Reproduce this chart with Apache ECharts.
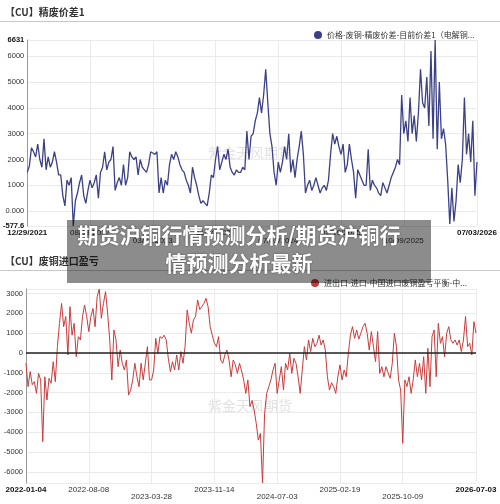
<!DOCTYPE html>
<html>
<head>
<meta charset="utf-8">
<script src="https://cdn.jsdelivr.net/npm/echarts@6.0.0/dist/echarts.min.js"></script>
<style>
  html, body { margin: 0; padding: 0; background: #fff; }
  #main { width: 500px; height: 504px; }
</style>
</head>
<body>
<div id="main"></div>
<script>
// 精废价差1 (上图)
const topName = '价格-废铜-精废价差-目前价差1（电解铜-废铜）'
const topLabels = ['12/29/2021', '08/08/2022', '03/28/2023', '11/14/2023', '07/03/2024', '02/19/2025', '10/09/2025', '07/03/2026']
const topValues = [
  1500, 1750, 2450, 2300, 2100, 2600, 2000, 1700, 2800, 1600,
  2100, 1700, 1900, 2300, 1900, 1400, 1400, 600, 200, 1200,
  1000, 1300, -577.6, 400, 700, 1100, 1400, 600, 300, 800,
  1200, 900, 1100, 1400, 500, 1500, 1700, 2300, 1600, 1900,
  2000, 2500, 800, 1100, 1300, 1000, 1800, 1000, 1300, 2300,
  2100, 2000, 2100, 1400, 2000, 1700, 1600, 1500, 1800, 2300,
  2250, 2200, 2300, 700, 1300, 700, 1200, 1000, 1800, 2200,
  2000, 2300, 2100, 1800, 1600, 1500, 1200, 1000, 700, 1700,
  1300, 1000, 600, 300, 400, 300, 200, 700, 1400, 1300,
  2000, 2500, 1600, 1900, 2200, 2000, 2400, 1700, 1500, 1400,
  1600, 1500, 1500, 1700, 1600, 3100, 2000, 2900, 3000, 3500,
  3800, 4400, 3800, 4500, 5500, 4200, 3000, 2500, 1500, 1000,
  1900, 1500, 1900, 2500, 2000, 3000, 1500, 2000, 1300, 2000,
  2500, 3100, 2200, 700, 1000, 1200, 800, 1000, 1300, 1000,
  700, 900, 1000, 800, 1200, 2200, 3000, 2600, 2900, 2500,
  2200, 2600, 1500, 1800, 2600, 2000, 1500, 500, 1600, 1400,
  1200, 1000, 1000, 2400, 800, 1200, 1000, 900, 700, 600,
  1100, 900, 700, 1000, 1300, 1500, 1700, 2000, 1800, 4500,
  3000, 3500, 2700, 4400, 3000, 3700, 2700, 3800, 5500, 4200,
  4000, 5200, 3300, 6200, 2800, 6631, 2400, 5000, 2800, 3200,
  2600, 1200, -500, 900, -400, 400, 1800, 1100, 2000, 4400,
  2200, 3000, 1900, 3500, 600, 1900
]

// 废铜进口盈亏 (下图)
const botName = '进出口-进口-中国进口废铜盈亏平衡-中国（广东）'
const botLabels = ['2022-01-04', '2022-08-08', '2023-03-28', '2023-11-14', '2024-07-03', '2025-02-19', '2025-10-09', '2026-07-03']
const botValues = [
  -520, -1700, -940, -1600, -1450, -2040, -1030, -1360, -4480, -1200,
  -2375, -1280, -1530, -440, -1450, 320, 1500, 2500, 1330, 1840,
  -100, 2340, 900, 1500, -185, 825, 660, 1840, 2425, 1840,
  1080, 1840, 2250, 1330, 2850, 3232, 1750, 2500, 3100, 2000,
  660, -1360, 1160, 660, -690, 150, -520, -860, -350, -2120,
  -1870, -1360, -520, -1200, -1700, -520, -1360, -520, 320, -1360,
  -1360, -860, 740, -17, 825, 740, 900, 660, -270, -940,
  -440, -860, -100, -860, 70, -520, 320, 2170, 1500, 1000,
  1670, 1840, 2680, 2200, 2340, 2500, 2760, 2340, 1330, 900,
  490, 320, 825, -350, -520, -100, 150, -350, -1200, -350,
  -600, -1030, -520, -900, -1360, -2040, -1360, -2710, -2400, -2880,
  -3550, -4400, -4060, -6566, -3050, -2040, -1700, -1360, -860, -520,
  -2040, -1360, -690, -1870, -520, -860, -17, -1030, -270, -520,
  -1200, -2040, -860, 320, -350, 660, 70, 740, 320, 490,
  900, 400, 660, 150, -1200, -1870, -1500, -1700, -2040, -1200,
  -600, -1360, -860, -1200, -17, 900, 1330, 740, 1160, 700,
  1000, 1330, 1500, 1000, 150, 1080, 320, -440, 1080, -1030,
  -690, -1200, -690, -1000, -1280, -520, 1000, 320, -1360, -1870,
  -4560, -1360, -1700, -1200, -2040, -1360, -350, -1200, -520, -1360,
  -185, -2040, 235, -1700, 825, 1160, -1200, 1500, 490, 825,
  -185, 1000, 1330, 660, 490, 660, 400, 660, 70, 660,
  1840, 320, 490, -100, 1580, 1000
]

const overlayLines = ['期货沪铜行情预测分析/期货沪铜行', '情预测分析最新']

const STEP = 30
const NUM_FONT = '"Liberation Sans", Arial, sans-serif'
const CJK_FONT = '"Noto Sans CJK SC", sans-serif'

// 第几个刻度标签, 不是标签返回 -1
function labelNo(i, n) {
  if (i === n - 1) return 7
  if (i % STEP === 0 && i / STEP <= 6) return i / STEP
  return -1
}
// 标签错行: 0,1,3,5,7 在第一行
function labelRow(k) {
  return (k === 0 || k === 7 || k % 2 === 1) ? 1 : 2
}

function makeXAxis(gridIndex, n, labels, row, offset) {
  const cats = Array.from({ length: n }, (_, i) => String(i))
  return {
    type: 'category',
    gridIndex: gridIndex,
    position: 'bottom',
    data: cats,
    boundaryGap: false,
    offset: offset,
    axisLine: { show: false },
    axisTick: { show: false },
    splitLine: {
      show: row === 1,
      interval: (i) => labelNo(i, n) >= 0,
      lineStyle: { color: '#ebebeb', width: 1 }
    },
    axisLabel: {
      interval: (i) => {
        const k = labelNo(i, n)
        return k >= 0 && labelRow(k) === row
      },
      margin: 3,
      fontSize: 8,
      color: '#333',
      fontFamily: NUM_FONT,
      formatter: (v) => {
        const k = labelNo(parseInt(v, 10), n)
        if (k < 0) return ''
        if (k === 0 || k === 7) return '{b|' + labels[k] + '}'
        return labels[k]
      },
      rich: { b: { fontWeight: 'bold', fontSize: 8, color: '#111', fontFamily: NUM_FONT } }
    }
  }
}

const topMin = Math.min(...topValues)
const topMax = Math.max(...topValues)

const chart = echarts.init(document.getElementById('main'))

chart.setOption({
  animation: false,
  textStyle: { fontFamily: NUM_FONT },
  grid: [
    { left: 25, right: 23, top: 40, height: 186 },
    { left: 26, right: 24, top: 289, height: 194 }
  ],
  legend: [
    {
      data: [topName], left: 309, top: 26, icon: 'circle', itemWidth: 8, itemHeight: 8,
      textStyle: { fontSize: 8, color: '#333', fontFamily: CJK_FONT, width: 150, overflow: 'truncate', ellipsis: '...' }
    },
    {
      data: [botName], left: 306, top: 274, icon: 'circle', itemWidth: 8, itemHeight: 8,
      textStyle: { fontSize: 8, color: '#333', fontFamily: CJK_FONT, width: 152, overflow: 'truncate', ellipsis: '...' }
    }
  ],
  xAxis: [
    makeXAxis(0, topValues.length, topLabels, 1, 0),
    makeXAxis(0, topValues.length, topLabels, 2, 8),
    makeXAxis(1, botValues.length, botLabels, 1, 0),
    makeXAxis(1, botValues.length, botLabels, 2, 7)
  ],
  yAxis: [
    {
      type: 'value',
      gridIndex: 0,
      min: (e) => e.min,
      max: (e) => e.max,
      splitNumber: 7,
      axisLine: { show: true, lineStyle: { color: '#999', width: 1 } },
      axisTick: { show: false },
      splitLine: { lineStyle: { color: '#ebebeb' } },
      axisLabel: {
        margin: 3, fontSize: 7.5, color: '#333',
        formatter: (v) => {
          if (v === 0) return '0.000'
          if (v === topMin || v === topMax) return '{b|' + v + '}'
          return String(v)
        },
        rich: { b: { fontWeight: 'bold', fontSize: 7.5, color: '#111' } }
      }
    },
    {
      type: 'value',
      gridIndex: 1,
      min: (e) => e.min,
      max: (e) => e.max,
      splitNumber: 10,
      axisLine: { show: true, lineStyle: { color: '#999', width: 1 } },
      axisTick: { show: false },
      splitLine: { lineStyle: { color: '#ebebeb' } },
      axisLabel: {
        margin: 3, fontSize: 7.5, color: '#333', showMinLabel: false, showMaxLabel: false,
        formatter: (v) => String(v)
      }
    }
  ],
  series: [
    {
      name: topName,
      type: 'line',
      xAxisIndex: 0,
      yAxisIndex: 0,
      data: topValues,
      symbol: 'none',
      color: '#3c4187',
      lineStyle: { width: 1.3, color: '#3c4187' }
    },
    {
      name: botName,
      type: 'line',
      xAxisIndex: 2,
      yAxisIndex: 1,
      data: botValues,
      symbol: 'none',
      color: '#c33a3a',
      lineStyle: { width: 1, color: '#c83c3c' },
      markLine: {
        silent: true,
        symbol: 'none',
        label: { show: false },
        lineStyle: { color: '#222', width: 1.5, type: 'solid' },
        data: [{ yAxis: 0 }]
      }
    }
  ],
  graphic: [
    { type: 'text', x: 5, y: 12, style: { text: '【CU】精废价差1', font: 'bold 10px ' + CJK_FONT, fill: '#333', verticalAlign: 'middle' } },
    { type: 'line', shape: { x1: 0, y1: 21.5, x2: 500, y2: 21.5 }, style: { stroke: '#c8c8c8', lineWidth: 1 } },
    { type: 'text', x: 5, y: 261, style: { text: '【CU】废铜进口盈亏', font: 'bold 10px ' + CJK_FONT, fill: '#333', verticalAlign: 'middle' } },
    { type: 'line', shape: { x1: 0, y1: 270.5, x2: 500, y2: 270.5 }, style: { stroke: '#c8c8c8', lineWidth: 1 } },
    { type: 'text', x: 250, y: 153, z: 0, style: { text: '紫金天风期货', font: '14px ' + CJK_FONT, fill: '#e2e2e2', align: 'center', verticalAlign: 'middle' } },
    { type: 'text', x: 250, y: 406, z: 0, style: { text: '紫金天风期货', font: '14px ' + CJK_FONT, fill: '#e2e2e2', align: 'center', verticalAlign: 'middle' } },
    { type: 'rect', z: 100, shape: { x: 67, y: 220, width: 364, height: 63 }, style: { fill: 'rgba(0,0,0,0.45)' } },
    {
      type: 'text', z: 101, x: 239, y: 235,
      style: { text: overlayLines[0], font: 'bold 21px ' + CJK_FONT, fill: '#fff', align: 'center', verticalAlign: 'middle', textShadowColor: 'rgba(0,0,0,0.5)', textShadowBlur: 2 }
    },
    {
      type: 'text', z: 101, x: 239, y: 263,
      style: { text: overlayLines[1], font: 'bold 21px ' + CJK_FONT, fill: '#fff', align: 'center', verticalAlign: 'middle', textShadowColor: 'rgba(0,0,0,0.5)', textShadowBlur: 2 }
    }
  ]
})
</script>
</body>
</html>
